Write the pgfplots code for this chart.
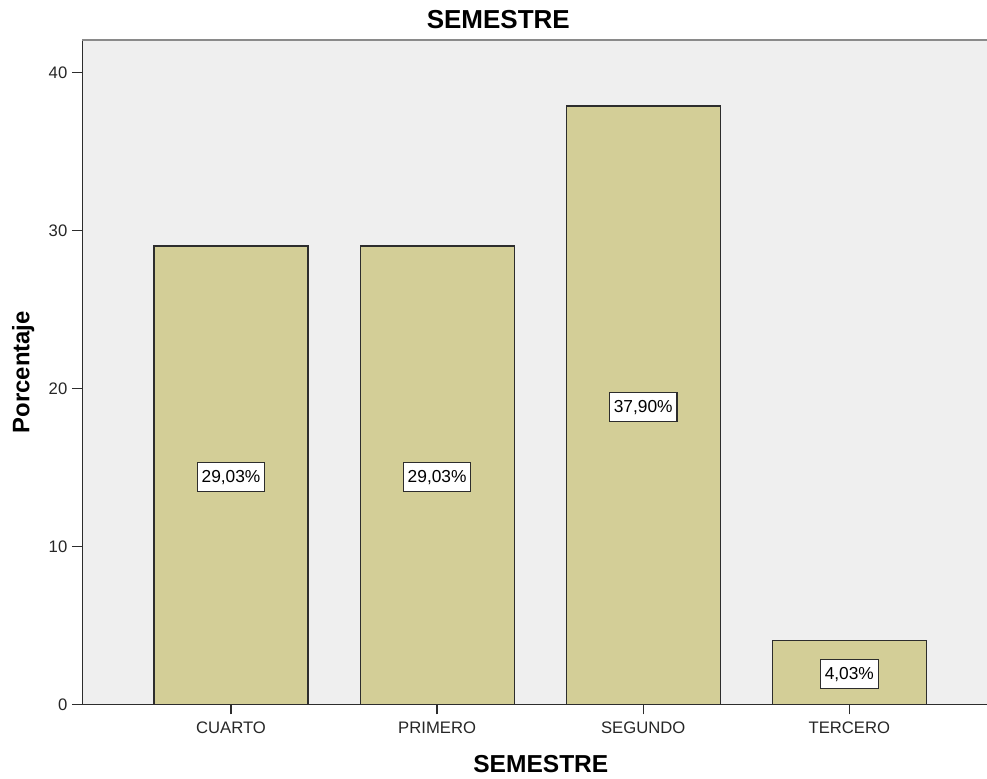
\documentclass[border=0pt]{standalone}
\usepackage{pgfplots}
\usepackage{pgfplotstable}
\pgfplotsset{compat=1.18}
\usepackage{fontspec}
\setmainfont{Liberation Sans}

\definecolor{barfill}{RGB}{211,206,151}
\definecolor{plotbg}{RGB}{239,239,239}
\definecolor{edge}{RGB}{45,45,45}
\definecolor{frametop}{RGB}{138,138,138}

% percentage of students by semester
\pgfplotstableread{
cat pct
0 29.03
1 29.03
2 37.90
3 4.03
}\semestre

\begin{document}
\begin{tikzpicture}
\useasboundingbox (-61.5pt,-55.3pt) rectangle (678.75pt,528.2pt);
\begin{axis}[
  at={(0,0)}, anchor=south west,
  scale only axis, width=678.75pt, height=498.2pt,
  xmin=-0.723, xmax=3.668, ymin=0, ymax=42.08,
  axis background/.style={fill=plotbg},
  axis line style={draw=none},
  xtick={0,1,2,3},
  xticklabels={CUARTO,PRIMERO,SEGUNDO,TERCERO},
  ytick={0,10,20,30,40},
  tick align=outside, xtick pos=bottom, ytick pos=left,
  major tick length=7.5pt,
  tick style={edge, line width=1pt},
  ticklabel style={font=\fontsize{12.5}{15}\selectfont, text=black!85},
  xticklabel style={yshift=-2pt},
  /pgf/number format/assume math mode=true,
  title=SEMESTRE,
  title style={at={(rel axis cs:0.46,1.0057)}, anchor=base, yshift=0pt,
    font=\bfseries\fontsize{19.5}{23}\selectfont},
  xlabel=SEMESTRE,
  xlabel style={at={(rel axis cs:0.507,-0.1034)}, anchor=base,
    font=\bfseries\fontsize{18.4}{22}\selectfont},
  ylabel=Porcentaje,
  ylabel style={at={(rel axis cs:-0.065,0.5)}, anchor=center,
    font=\bfseries\fontsize{17.9}{21}\selectfont},
]
\addplot[ybar, bar width=0.747, fill=barfill, draw=edge, line width=0.9pt]
  table[x=cat, y=pct] {\semestre};
% value labels centred halfway up each bar
\addplot[draw=none, mark=none, point meta=\thisrow{pct},
  nodes near coords={\pgfmathprintnumber[fixed, fixed zerofill, precision=2, use comma]{\pgfplotspointmeta}\%},
  every node near coord/.append style={anchor=center, fill=white, draw=edge,
    line width=0.8pt, text=black, inner xsep=3.3pt, inner ysep=0pt,
    minimum height=21.75pt, font=\fontsize{13}{15}\selectfont, yshift=-1.5pt}]
  table[x=cat, y expr=\thisrow{pct}/2] {\semestre};
% frame: left, bottom and top edges
\draw[edge, line width=1pt] (rel axis cs:0,1) -- (rel axis cs:0,0) -- (rel axis cs:1,0);
\draw[frametop, line width=1.3pt] (rel axis cs:0,1) -- (rel axis cs:1,1);
\end{axis}
\end{tikzpicture}
\end{document}
